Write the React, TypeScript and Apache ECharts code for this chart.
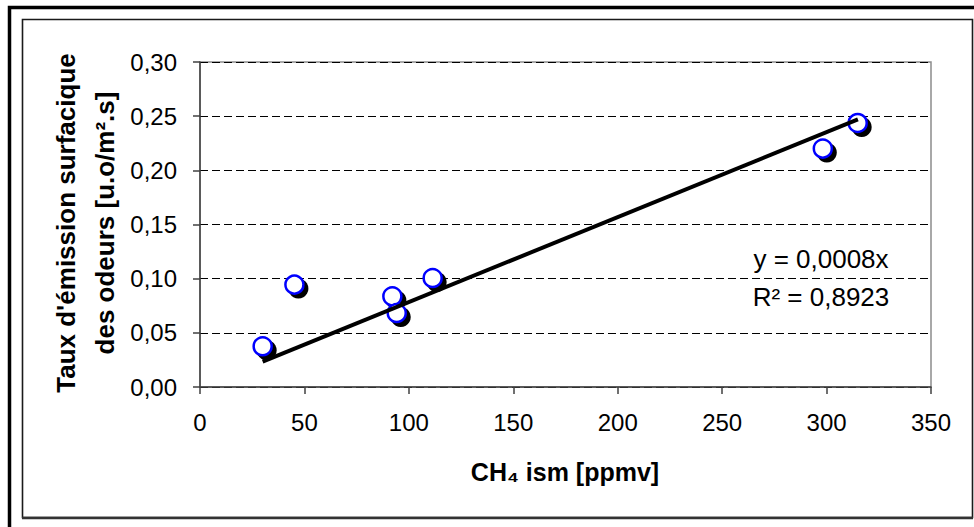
import React, { useEffect, useRef } from "react";
import * as echarts from "echarts";

const xValues = [30.0, 45.2, 92.1, 94.2, 111.4, 298.2, 314.9];
const yValues = [0.0376, 0.0945, 0.0837, 0.0683, 0.1006, 0.2201, 0.2437];
const trendX = [30, 315];
const trendY = [0.0235, 0.247];
const xTicks = { min: 0, max: 350, interval: 50 };
const yTicks = { min: 0, max: 0.3, interval: 0.05 };
const equationLines = ["y = 0,0008x", "R² = 0,8923"];
const xTitle = "CH₄ ism [ppmv]";
const yTitleLines = ["Taux d'émission surfacique", "des odeurs [u.o/m².s]"];

const FONT = "'Liberation Sans', Arial, sans-serif";

export default function App() {
  const ref = useRef<HTMLDivElement>(null);
  useEffect(() => {
    if (!ref.current) return;
    const chart = echarts.init(ref.current, undefined, { renderer: "svg" });
    const pts = xValues.map((x, i) => [x, yValues[i]]);
    const trend = trendX.map((x, i) => [x, trendY[i]]);
    chart.setOption({
      animation: false,
      backgroundColor: "#ffffff",
      textStyle: { fontFamily: FONT },
      grid: {
        left: 200,
        top: 62,
        width: 731,
        height: 325,
        show: true,
        borderColor: "#8c8c8c",
        borderWidth: 1.5,
        backgroundColor: "transparent",
      },
      xAxis: {
        type: "value",
        min: xTicks.min,
        max: xTicks.max,
        interval: xTicks.interval,
        axisLine: { show: true, onZero: false, lineStyle: { color: "#404040", width: 1.5 } },
        axisTick: { show: true, length: 7, lineStyle: { color: "#404040", width: 1.5 } },
        axisLabel: { color: "#000", fontSize: 24, fontFamily: FONT, margin: 23 },
        splitLine: { show: false },
      },
      yAxis: {
        type: "value",
        min: yTicks.min,
        max: yTicks.max,
        interval: yTicks.interval,
        axisLine: { show: true, onZero: false, lineStyle: { color: "#404040", width: 1.5 } },
        axisTick: { show: true, length: 7, lineStyle: { color: "#404040", width: 1.5 } },
        axisLabel: {
          color: "#000",
          fontSize: 24,
          fontFamily: FONT,
          margin: 23,
          formatter: (v: number) => v.toFixed(2).replace(".", ","),
        },
        splitLine: { show: true, lineStyle: { color: "#000", width: 1, type: [8, 4] } },
      },
      series: [
        {
          type: "scatter",
          data: pts,
          symbol: "circle",
          symbolSize: 20,
          symbolOffset: [4, 4],
          itemStyle: { color: "#000", opacity: 1 },
          silent: true,
          z: 2,
        },
        {
          type: "scatter",
          data: pts,
          symbol: "circle",
          symbolSize: 18,
          itemStyle: { color: "#fff", borderColor: "#0000ff", borderWidth: 2.5, opacity: 1 },
          z: 3,
        },
        {
          type: "line",
          data: trend,
          symbol: "none",
          lineStyle: { color: "#000", width: 4 },
          z: 4,
        },
      ],
      graphic: [
        {
          type: "rect",
          shape: { x: 9.5, y: 7.5, width: 990, height: 560 },
          style: { fill: "none", stroke: "#000", lineWidth: 3.5 },
          silent: true,
        },
        {
          type: "rect",
          shape: { x: 22.5, y: 19.5, width: 950, height: 498 },
          style: { fill: "none", stroke: "#1a1a1a", lineWidth: 1.6 },
          silent: true,
        },
        {
          type: "line",
          shape: { x1: 22, y1: 518, x2: 973, y2: 518 },
          style: { stroke: "#333", lineWidth: 2.5 },
          silent: true,
        },
        {
          type: "text",
          x: 821,
          y: 259,
          style: {
            text: equationLines[0],
            font: `26px ${FONT}`,
            fill: "#000",
            textAlign: "center",
            textVerticalAlign: "middle",
          },
          z: 10,
        },
        {
          type: "text",
          x: 821,
          y: 297,
          style: {
            text: equationLines[1],
            font: `26px ${FONT}`,
            fill: "#000",
            textAlign: "center",
            textVerticalAlign: "middle",
          },
          z: 10,
        },
        {
          type: "text",
          x: 565,
          y: 472,
          style: {
            text: xTitle,
            font: `bold 25px ${FONT}`,
            fill: "#000",
            textAlign: "center",
            textVerticalAlign: "middle",
          },
        },
        {
          type: "text",
          x: 85,
          y: 223,
          rotation: Math.PI / 2,
          style: {
            text: yTitleLines.join("\n"),
            font: `bold 26px ${FONT}`,
            lineHeight: 39,
            fill: "#000",
            textAlign: "center",
            textVerticalAlign: "middle",
          },
        },
      ],
    });
    return () => chart.dispose();
  }, []);
  return (
    <div
      ref={ref}
      style={{ position: "fixed", left: 0, top: 0, width: 974, height: 527, background: "#fff" }}
    />
  );
}
